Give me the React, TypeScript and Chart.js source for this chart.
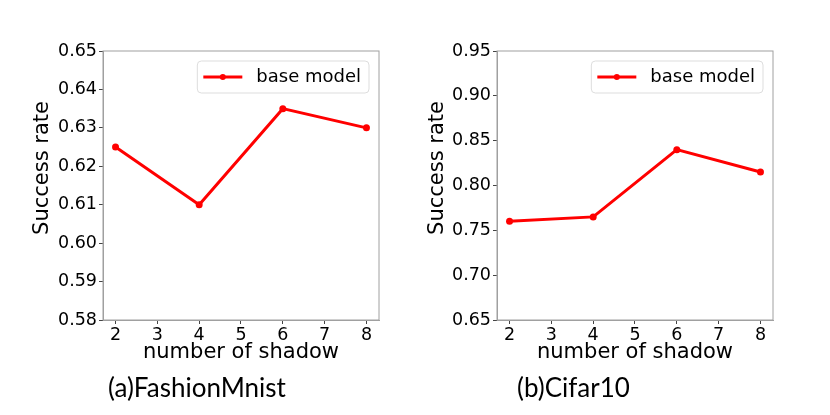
import React, { useEffect, useRef } from "react";
import { Chart, registerables } from "chart.js";

Chart.register(...registerables);

const shadowCounts = [2, 4, 6, 8];
const xTickValues = [2, 3, 4, 5, 6, 7, 8];

const fashionRates = [0.625, 0.61, 0.635, 0.63];
const fashionTicks = [0.58, 0.59, 0.6, 0.61, 0.62, 0.63, 0.64, 0.65];

const cifarRates = [0.76, 0.765, 0.84, 0.815];
const cifarTicks = [0.65, 0.7, 0.75, 0.8, 0.85, 0.9, 0.95];

const seriesLabel = "base model";
const xTitle = "number of shadow";
const yTitle = "Success rate";
const captions = ["(a)FashionMnist", "(b)Cifar10"];

const FONT = "'DejaVu Sans', sans-serif";

const decorPlugin = {
  id: "decor",
  beforeDatasetsDraw(chart: any) {
    const { ctx, chartArea: a } = chart;
    ctx.save();
    ctx.strokeStyle = "#a0a0a0";
    ctx.lineWidth = 1;
    ctx.strokeRect(a.left, a.top, a.right - a.left, a.bottom - a.top);
    ctx.restore();
  },
  afterDatasetsDraw(chart: any) {
    const { ctx, chartArea: a } = chart;
    ctx.save();
    const label = chart.data.datasets[0].label;
    ctx.font = `18px ${FONT}`;
    const tw = ctx.measureText(label).width;
    const bw = 59 + tw + 8;
    const bh = 32;
    const bx = a.right - 10 - bw;
    const by = a.top + 10;
    const r = 4;
    ctx.beginPath();
    ctx.moveTo(bx + r, by);
    ctx.lineTo(bx + bw - r, by);
    ctx.arcTo(bx + bw, by, bx + bw, by + r, r);
    ctx.lineTo(bx + bw, by + bh - r);
    ctx.arcTo(bx + bw, by + bh, bx + bw - r, by + bh, r);
    ctx.lineTo(bx + r, by + bh);
    ctx.arcTo(bx, by + bh, bx, by + bh - r, r);
    ctx.lineTo(bx, by + r);
    ctx.arcTo(bx, by, bx + r, by, r);
    ctx.closePath();
    ctx.fillStyle = "rgba(255,255,255,0.8)";
    ctx.fill();
    ctx.strokeStyle = "#dddddd";
    ctx.lineWidth = 1;
    ctx.stroke();
    const cy = by + bh / 2;
    ctx.strokeStyle = "#ff0000";
    ctx.lineWidth = 3;
    ctx.beginPath();
    ctx.moveTo(bx + 6, cy);
    ctx.lineTo(bx + 45, cy);
    ctx.stroke();
    ctx.fillStyle = "#ff0000";
    ctx.beginPath();
    ctx.arc(bx + 25.5, cy, 3, 0, Math.PI * 2);
    ctx.fill();
    ctx.fillStyle = "#000";
    ctx.textBaseline = "middle";
    ctx.textAlign = "left";
    ctx.fillText(label, bx + 59, cy);
    ctx.restore();
  },
  afterDraw(chart: any, _args: any, opts: any) {
    const { ctx } = chart;
    ctx.save();
    ctx.font = `21px ${FONT}`;
    ctx.fillStyle = "#000";
    ctx.textAlign = "center";
    ctx.textBaseline = "middle";
    ctx.translate(opts.yTitleX, opts.yTitleY);
    ctx.rotate(-Math.PI / 2);
    ctx.fillText(opts.yTitle, 0, 0);
    ctx.restore();
  },
};

type PanelProps = {
  values: number[];
  yTicks: number[];
  yWidth: number;
  rightPad: number;
  yTitleX: number;
};

function Panel({ values, yTicks, yWidth, rightPad, yTitleX }: PanelProps) {
  const ref = useRef<HTMLCanvasElement | null>(null);
  useEffect(() => {
    if (!ref.current) return;
    const chart = new Chart(ref.current, {
      type: "line",
      data: {
        datasets: [
          {
            label: seriesLabel,
            data: shadowCounts.map((x, i) => ({ x, y: values[i] })),
            borderColor: "#ff0000",
            backgroundColor: "#ff0000",
            borderWidth: 3,
            pointRadius: 3.5,
            pointBorderWidth: 0,
            pointBackgroundColor: "#ff0000",
            tension: 0,
          },
        ],
      },
      options: {
        animation: false,
        responsive: true,
        maintainAspectRatio: false,
        layout: { padding: { left: 0, top: 51, right: rightPad, bottom: 49.4 } },
        plugins: {
          legend: { display: false },
          tooltip: { enabled: false },
          decor: { yTitle, yTitleX, yTitleY: 168 },
        } as any,
        scales: {
          x: {
            type: "linear",
            min: 1.7,
            max: 8.3,
            afterBuildTicks: (s: any) => {
              s.ticks = xTickValues.map((v) => ({ value: v }));
            },
            afterFit: (s: any) => {
              s.height = 45.6;
            },
            grid: { drawOnChartArea: false, tickLength: 4, color: "#444", tickColor: "#444" },
            border: { color: "#a0a0a0" },
            ticks: {
              color: "#000",
              font: { family: FONT, size: 17.5 },
              padding: 1,
              maxRotation: 0,
              callback: (v: any) => String(v),
            },
            title: {
              display: true,
              text: xTitle,
              color: "#000",
              font: { family: FONT, size: 21 },
              padding: { top: 0, bottom: 0 },
            },
          },
          y: {
            type: "linear",
            min: yTicks[0],
            max: yTicks[yTicks.length - 1],
            afterBuildTicks: (s: any) => {
              s.ticks = yTicks.map((v) => ({ value: v }));
            },
            afterFit: (s: any) => {
              s.width = yWidth;
            },
            grid: { drawOnChartArea: false, tickLength: 4, color: "#444", tickColor: "#444" },
            border: { color: "#a0a0a0" },
            ticks: {
              color: "#000",
              font: { family: FONT, size: 17.5 },
              padding: 2,
              callback: (v: any) => Number(v).toFixed(2),
            },
          },
        },
      },
      plugins: [decorPlugin as any],
    });
    return () => chart.destroy();
  }, []);
  return (
    <div style={{ position: "relative", width: 415, height: 415 }}>
      <canvas ref={ref} />
    </div>
  );
}

const captionStyle: React.CSSProperties = {
  position: "absolute",
  top: 371,
  font: "26px Lato, sans-serif",
  lineHeight: "32px",
  whiteSpace: "nowrap",
};

export default function App() {
  return (
    <div style={{ position: "absolute", left: 0, top: 0, width: 830, height: 415, background: "#fff" }}>
      <div style={{ position: "absolute", left: 0, top: 0 }}>
        <Panel values={fashionRates} yTicks={fashionTicks} yWidth={103} rightPad={36} yTitleX={43} />
      </div>
      <div style={{ position: "absolute", left: 415, top: 0 }}>
        <Panel values={cifarRates} yTicks={cifarTicks} yWidth={82} rightPad={57} yTitleX={23} />
      </div>
      <div style={{ ...captionStyle, left: 108 }}>{captions[0]}</div>
      <div style={{ ...captionStyle, left: 517 }}>{captions[1]}</div>
    </div>
  );
}
